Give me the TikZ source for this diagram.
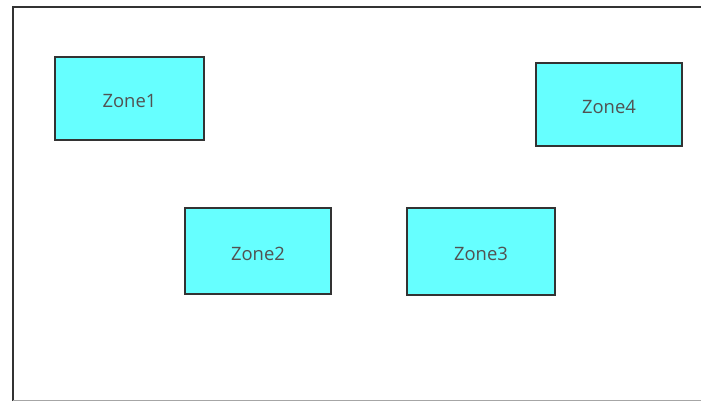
\documentclass[tikz,border=0pt]{standalone}
\usepackage{fontspec}
\setmainfont{Open Sans}
\definecolor{zonefill}{HTML}{66FFFF}
\definecolor{edge}{HTML}{333333}
\begin{document}
\begin{tikzpicture}[x=1bp,y=-1bp,
  zone/.style={draw=edge, line width=2.4bp, fill=zonefill, rectangle,
    inner sep=0pt, text=edge!85, font=\fontsize{18.5}{20}\selectfont}]
\useasboundingbox (0,0) rectangle (701,401);
\fill[white] (0,0) rectangle (701,401);
% outer frame
\draw[edge, line width=2.4bp] (13,401) -- (13,7) -- (701,7);
\draw[black!35, line width=1bp] (13,400) -- (701,400);
% zones
\node[zone, minimum width=149bp, minimum height=83bp] (z1) at (129.5,98.5) {};
\node[zone, minimum width=146bp, minimum height=86bp] (z2) at (258,251) {};
\node[zone, minimum width=148bp, minimum height=87bp] (z3) at (481,251.5) {};
\node[zone, minimum width=146bp, minimum height=83bp] (z4) at (609,104.5) {};
% zone labels
\path[every node/.style={text=edge!85, font=\fontsize{18.5}{20}\selectfont}]
  ([yshift=-2.5bp]z1.center) node {Zone1}
  ([yshift=-2.5bp]z2.center) node {Zone2}
  ([yshift=-2.5bp]z3.center) node {Zone3}
  ([yshift=-2.5bp]z4.center) node {Zone4};
\end{tikzpicture}
\end{document}
